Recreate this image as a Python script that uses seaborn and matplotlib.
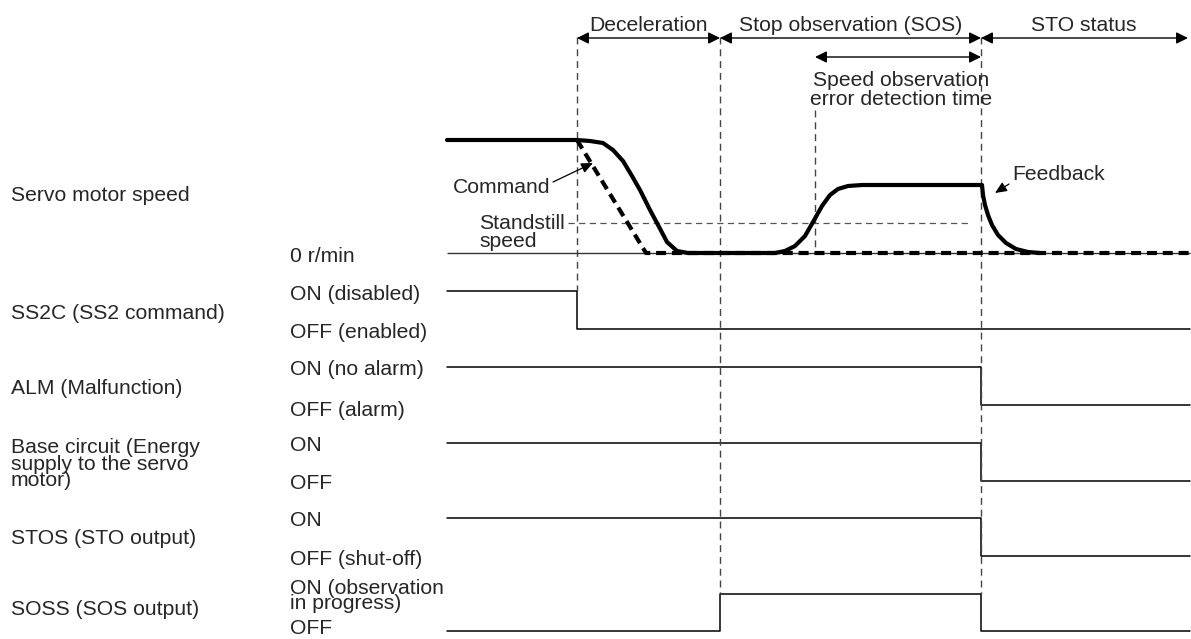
import matplotlib
matplotlib.use("Agg")
import matplotlib.pyplot as plt
import seaborn as sns
import pandas as pd
import numpy as np

# ---- diagram data (x = time along the chart, y = drawing level, both in px units) ----
# key instants
t_start, t_dec, t_sos, t_err, t_sto, t_end = 447, 577, 720, 815, 981, 1190

# servo motor speed: feedback (solid) and command (dashed)
fb_t = [447, 577, 590, 603, 613, 623, 632, 640, 650, 657, 667, 677, 688,
        775, 785, 795, 805, 813, 822, 830, 838, 848, 862, 981,
        982, 983, 985, 988, 992, 998, 1006, 1016, 1028, 1040]
fb_y = [140, 140, 141, 143, 150, 161, 176, 190, 210, 223, 242, 251, 253,
        253, 251, 246, 236, 222, 206, 195, 189, 186, 185, 185,
        185, 195, 205, 215, 225, 235, 243, 249, 252, 253]
cmd_t = [577, 646, 1190]
cmd_y = [140, 253, 253]
zero_y = 253
standstill_y = 223

# on/off signals
signal_names = ["SS2C", "ALM", "Base", "STOS", "SOSS"]
on_y = [291, 367, 443, 518, 594]
off_y = [329, 405, 481, 556, 631]
step_t = [
    [447, 577, 1190],
    [447, 981, 1190],
    [447, 981, 1190],
    [447, 981, 1190],
    [447, 720, 981, 1190],
]
step_state = [
    [1, 0, 0],
    [1, 0, 0],
    [1, 0, 0],
    [1, 0, 0],
    [0, 1, 0, 0],
]

# vertical timing guides
guide_x = [t_dec, t_sos, t_err, t_sto]
guide_top = [37, 37, 110, 37]
guide_bottom = [291, 594, 253, 594]

# header spans
span_start = [t_dec, t_sos, t_sto]
span_end = [t_sos, t_sto, 1188]
span_labels = ["Deceleration", "Stop observation (SOS)", "STO status"]

# left row titles (text, last-line baseline y, line spacing)
row_titles = [
    ("Servo motor speed", 201, 1.0),
    ("SS2C (SS2 command)", 319, 1.0),
    ("ALM (Malfunction)", 394, 1.0),
    ("Base circuit (Energy\nsupply to the servo\nmotor)", 486, 0.82),
    ("STOS (STO output)", 544, 1.0),
    ("SOSS (SOS output)", 615, 1.0),
]
# state labels (text, last-line baseline y, line spacing)
state_labels = [
    ("0 r/min", 262, 1.0),
    ("ON (disabled)", 300, 1.0),
    ("OFF (enabled)", 338, 1.0),
    ("ON (no alarm)", 375, 1.0),
    ("OFF (alarm)", 416, 1.0),
    ("ON", 451, 1.0),
    ("OFF", 489, 1.0),
    ("ON", 526, 1.0),
    ("OFF (shut-off)", 565, 1.0),
    ("ON (observation\nin progress)", 609, 0.75),
    ("OFF", 634, 1.0),
]

# ---- style ----
sns.set_theme(style="white")
plt.rcParams["font.family"] = ["Liberation Sans", "DejaVu Sans"]
FS = 15.2

fig = plt.figure(figsize=(11.91, 6.39), dpi=100)
ax = fig.add_axes([0, 0, 1, 1])
ax.set_xlim(0, 1191)
ax.set_ylim(639, 0)
ax.axis("off")

# signal waveforms
rows = []
for name, ts, st, hi, lo in zip(signal_names, step_t, step_state, on_y, off_y):
    for i, (t, s) in enumerate(zip(ts, st)):
        rows.append({"signal": name, "t": t, "y": hi if s else lo, "order": i})
sig_df = pd.DataFrame(rows)
for name, grp in sig_df.groupby("signal"):
    sns.lineplot(data=grp, x="t", y="y", estimator=None, sort=False,
                 drawstyle="steps-post", color="black", lw=1.1, ax=ax)

# guides
ax.vlines(guide_x, guide_top, guide_bottom, colors="#444444", lw=1.0,
          linestyles=(0, (5, 3.5)))
ax.hlines(standstill_y, 568, 970, colors="#555555", lw=0.9,
          linestyles=(0, (5, 3.5)))

# speed traces
ax.hlines(zero_y, t_start, t_end, colors="#333333", lw=1.0)
sns.lineplot(x=cmd_t, y=cmd_y, estimator=None, sort=False, color="black",
             lw=3.0, linestyle=(0, (2.4, 1.4)), ax=ax)
sns.lineplot(x=fb_t, y=fb_y, estimator=None, sort=False, color="black",
             lw=3.0, ax=ax)

# header arrows
head = "<|-|>,head_length=0.5,head_width=0.25"
for a, b, lab in zip(span_start, span_end, span_labels):
    ax.annotate("", xy=(b, 38), xytext=(a, 38),
                arrowprops=dict(arrowstyle=head, color="black", lw=1.0,
                                mutation_scale=14, shrinkA=0, shrinkB=0))
    ax.text((a + b) / 2 + (0 if lab != "STO status" else -1), 31, lab,
            fontsize=FS, ha="center", va="baseline")

ax.annotate("", xy=(t_sto, 57), xytext=(t_err, 57),
            arrowprops=dict(arrowstyle=head, color="black", lw=1.0,
                            mutation_scale=14, shrinkA=0, shrinkB=0))
ax.text(901, 105, "Speed observation\nerror detection time", fontsize=FS,
        ha="center", va="baseline", multialignment="center", linespacing=1.0)

# callouts
ax.text(453, 193, "Command", fontsize=FS, ha="left", va="baseline")
ax.annotate("", xy=(593, 163), xytext=(553, 182),
            arrowprops=dict(arrowstyle="-|>,head_length=0.5,head_width=0.22",
                            color="black", lw=0.9, mutation_scale=14,
                            shrinkA=0, shrinkB=0))
ax.text(479, 247, "Standstill\nspeed", fontsize=FS, ha="left", va="baseline",
        linespacing=0.95)
ax.text(1012, 180, "Feedback", fontsize=FS, ha="left", va="baseline")
ax.annotate("", xy=(995, 193), xytext=(1009, 184),
            arrowprops=dict(arrowstyle="-|>,head_length=0.5,head_width=0.22",
                            color="black", lw=0.9, mutation_scale=14,
                            shrinkA=0, shrinkB=0))

# row labels
for txt, yb, ls in row_titles:
    ax.text(11, yb, txt, fontsize=FS, ha="left", va="baseline", linespacing=ls)
for txt, yb, ls in state_labels:
    ax.text(290, yb, txt, fontsize=FS, ha="left", va="baseline", linespacing=ls)

fig.savefig("out.png", dpi=100, facecolor="white")
